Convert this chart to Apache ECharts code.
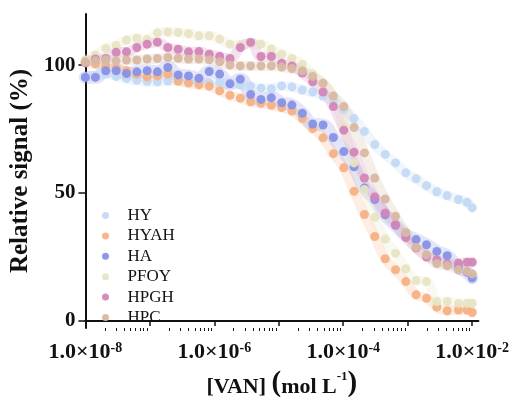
<!DOCTYPE html>
<html>
<head>
<meta charset="utf-8">
<script src="https://cdn.jsdelivr.net/npm/echarts@6/dist/echarts.min.js"></script>
<style>html,body{margin:0;padding:0;background:#fff}#c{width:512px;height:403px}</style>
</head>
<body>
<div id="c"></div>
<script>
// VAN concentration (mol/L)
const conc = [1.0e-8, 1.43e-8, 2.07e-8, 3.0e-8, 4.34e-8, 6.28e-8, 9.08e-8, 1.31e-7, 1.90e-7, 2.75e-7,
  3.98e-7, 5.77e-7, 8.34e-7, 1.21e-6, 1.75e-6, 2.53e-6, 3.66e-6, 5.29e-6, 7.66e-6, 1.11e-5,
  1.60e-5, 2.32e-5, 3.36e-5, 4.86e-5, 7.03e-5, 1.02e-4, 1.47e-4, 2.13e-4, 3.08e-4, 4.47e-4,
  6.46e-4, 9.35e-4, 1.35e-3, 1.96e-3, 2.83e-3, 4.10e-3, 6.13e-3, 8.34e-3, 1.0e-2];

const HY = [95.5, 95.8, 96.5, 95.6, 94.8, 94.1, 93.6, 93.5, 93.8, 93.8, 93.6, 93.3, 93.0, 93.2, 92.9, 92.2, 91.8, 91.0, 90.8, 91.9,
  91.5, 90.3, 89.5, 87.9, 86.1, 82.7, 79.1, 74.1, 69.0, 65.1, 61.8, 57.9, 55.6, 52.9, 50.5, 49.0, 47.5, 46.4, 44.3];
const HYAH = [101, 100.5, 99.7, 98.8, 97.8, 96.5, 95.4, 95.8, 96.5, 93.8, 93.0, 92.3, 91.8, 90.0, 88.2, 87.1, 85.7, 85.1, 84.3, 83.4,
  82.1, 79.1, 75.2, 71.6, 65.4, 59.9, 50.7, 41.6, 33.0, 24.3, 20.0, 15.4, 10.2, 8.9, 5.4, 4.0, 4.3, 4.3, 3.3];
const HA = [95.2, 95.2, 97.8, 97.8, 96.7, 97.4, 97.8, 97.4, 99.1, 96.2, 95.8, 94.9, 97.5, 96.5, 92.7, 94.5, 88.5, 86.6, 87.3, 85.3,
  84.4, 81.2, 77.0, 76.6, 71.7, 66.2, 60.3, 52.0, 47.5, 41.5, 37.4, 33.7, 31.8, 29.8, 27.2, 25.5, 21.0, 19.0, 16.8];
const PFOY = [102, 104, 106.5, 107.7, 109.8, 110.5, 110.0, 112.6, 113.0, 112.8, 112.3, 111.5, 111.5, 110.2, 108.2, 108.0, 108.5, 108.2, 106.3, 104.3,
  102.6, 100.4, 96.5, 93.0, 88.0, 76.0, 61.8, 51.4, 40.5, 32.0, 26.5, 20.4, 15.8, 15.4, 7.6, 7.6, 6.9, 6.9, 6.9];
const HPGH = [101, 102.4, 102.6, 105.0, 105.2, 106.9, 108.2, 109.0, 106.9, 106.2, 105.2, 105.3, 104.3, 103.4, 102.6, 106.9, 108.9, 103.4, 103.4, 100.7,
  99.7, 96.9, 93.5, 89.5, 83.8, 74.6, 66.0, 55.9, 48.5, 42.2, 37.6, 32.6, 28.5, 25.0, 23.9, 22.3, 22.6, 23.0, 23.0];
const HPC = [101.3, 101.7, 102.1, 101.7, 102.0, 102.0, 102.4, 102.6, 103.0, 102.7, 102.4, 102.4, 102.1, 101.3, 100.0, 99.7, 99.7, 99.7, 99.7, 99.3,
  98.7, 97.8, 95.6, 92.9, 87.9, 83.8, 75.6, 65.7, 55.9, 47.7, 40.9, 34.6, 28.7, 25.9, 22.4, 21.6, 20.0, 19.3, 18.4];

const seriesNames = ['HY', 'HYAH', 'HA', 'PFOY', 'HPGH', 'HPC'];
const seriesValues = [HY, HYAH, HA, PFOY, HPGH, HPC];
const colors = ['#c3daf6', '#f6b285', '#8892e6', '#e8e4c4', '#d386b8', '#d8b9a3'];

const yTicks = [0, 50, 100];
const xLabelTicks = [1e-8, 1e-6, 1e-4, 1e-2];
const xMajorTicks = [1e-8, 1e-7, 1e-6, 1e-5, 1e-4, 1e-3, 1e-2];
const xMinorTicks = [];
[1e-8, 1e-7, 1e-6, 1e-5, 1e-4, 1e-3, 1e-2].forEach(d => {
  [2, 3, 4, 5, 6, 7, 8, 9].forEach(m => { if (d * m < 0.0125) xMinorTicks.push(d * m); });
});

const font = 'Liberation Serif';
const chart = echarts.init(document.getElementById('c'), null, {renderer: 'canvas'});

const series = [];
seriesNames.forEach((n, k) => {
  const data = conc.map((c, i) => [c, seriesValues[k][i]]);
  series.push({
    name: n + ' fit', type: 'line', xAxisIndex: 0, data: data, smooth: 0.5, symbol: 'none',
    lineStyle: {color: colors[k], width: n === 'HA' ? 13 : 10, opacity: 0.24, cap: 'round'},
    z: 1, silent: true
  });
});
seriesNames.forEach((n, k) => {
  const data = conc.map((c, i) => [c, seriesValues[k][i]]);
  series.push({
    name: n, type: 'scatter', xAxisIndex: 0, data: data, symbolSize: 9,
    itemStyle: {color: colors[k], opacity: 0.95}, z: 3
  });
});

const xCommon = {
  type: 'log', logBase: 10, min: 1e-8, max: 0.0125, position: 'bottom',
  splitLine: {show: false}
};

chart.setOption({
  animation: false,
  grid: {left: 84, right: 33, top: 14, bottom: 75, containLabel: false},
  legend: {
    data: seriesNames, orient: 'vertical', left: 97, top: 202, itemGap: 3.4,
    itemWidth: 20, itemHeight: 7, icon: 'circle',
    textStyle: {fontFamily: font, fontSize: 17, color: '#111', lineHeight: 17, padding: [0, 0, 0, 7]}
  },
  xAxis: [
    Object.assign({}, xCommon, {
      name: '{t|[VAN] }{p|(}{t|mol L}{s|-1}{p|)}',
      nameLocation: 'middle', nameGap: 42,
      nameTextStyle: {
        rich: {
          t: {fontFamily: font, fontSize: 22, fontWeight: 'bold', color: '#111', verticalAlign: 'bottom', lineHeight: 28},
          p: {fontFamily: font, fontSize: 29, fontWeight: 'bold', color: '#111', verticalAlign: 'bottom', lineHeight: 28},
          s: {fontFamily: font, fontSize: 13, fontWeight: 'bold', color: '#111', verticalAlign: 'top', lineHeight: 20}
        }
      },
      axisLine: {show: true, lineStyle: {color: '#111', width: 2}},
      axisTick: {show: true, inside: false, length: 5, lineStyle: {color: '#111', width: 1.5}, customValues: xMajorTicks},
      axisLabel: {
        show: true, margin: 13, customValues: xLabelTicks,
        formatter: v => '{b|1.0×10}{s|' + Math.round(Math.log10(v)) + '}',
        rich: {
          b: {fontFamily: font, fontSize: 22, fontWeight: 'bold', color: '#111', verticalAlign: 'bottom', lineHeight: 22},
          s: {fontFamily: font, fontSize: 14, fontWeight: 'bold', color: '#111', verticalAlign: 'top', lineHeight: 16}
        }
      }
    }),
    Object.assign({}, xCommon, {
      axisLine: {show: false},
      axisTick: {show: true, inside: false, length: 3, lineStyle: {color: '#111', width: 1}, customValues: xMinorTicks},
      axisLabel: {show: false}
    })
  ],
  yAxis: {
    type: 'value', min: -2.75, max: 120,
    name: 'Relative signal (%)', nameLocation: 'middle', nameGap: 45, nameRotate: 90,
    nameTextStyle: {fontFamily: font, fontSize: 25, fontWeight: 'bold', color: '#111'},
    splitLine: {show: false},
    axisLine: {show: true, lineStyle: {color: '#111', width: 2}},
    axisTick: {show: true, inside: false, length: 7, lineStyle: {color: '#111', width: 1.5}, customValues: yTicks},
    axisLabel: {
      show: true, margin: 10, customValues: yTicks,
      fontFamily: font, fontSize: 21, fontWeight: 'bold', color: '#111'
    }
  },
  series: series
});
</script>
</body>
</html>
